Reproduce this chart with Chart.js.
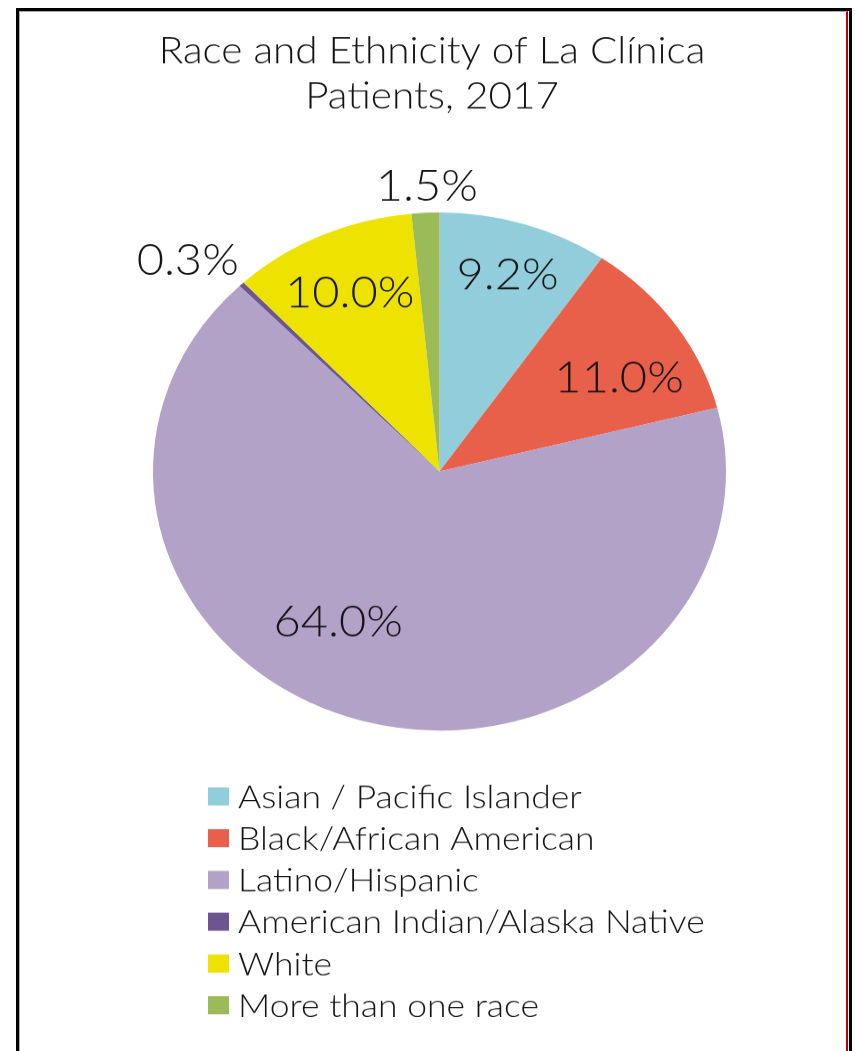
<!DOCTYPE html>
<html>
<head>
<meta charset="utf-8">
<script src="https://cdn.jsdelivr.net/npm/chart.js@4/dist/chart.umd.min.js"></script>
<style>
  html, body { margin:0; padding:0; overflow:hidden; background:#fff; width:855px; height:1051px; }
  #wrap { position:absolute; left:0; top:0; width:855px; height:1163px; transform:scaleY(0.904); transform-origin:0 0; }
  #frame { position:absolute; left:16px; top:8px; width:830px; height:1100px; border-top:3px solid #000; border-left:3px solid #000; border-right:3px solid #000; }
  #inner { position:absolute; left:19px; top:11px; width:826px; height:1100px; border-top:1px solid #aaa; border-left:1px solid #aaa; border-right:2px solid #c00000; }
</style>
</head>
<body>
<div id="wrap"><canvas id="c" width="855" height="1163"></canvas></div>
<div id="frame"></div>
<div id="inner"></div>
<script>
const titleLines = ["Race and Ethnicity of La Clínica", "Patients, 2017"];
const categories = ["Asian / Pacific Islander", "Black/African American", "Latino/Hispanic", "American Indian/Alaska Native", "White", "More than one race"];
const values = [9.2, 11.0, 64.0, 0.3, 10.0, 1.5];
const colors = ["#92CDDC", "#E8604A", "#B2A2C8", "#6E558F", "#EDE200", "#9BBB59"];
// label placement: radius as fraction of pie radius, angular shift (deg) from slice middle
const labelRadius = [0.80, 0.725, 0.677, 1.2, 0.76, 1.106];
const labelShift = [0, 4.7, 15.75, -3.4, 0, 0.5];

const FONT = "Lato, 'Open Sans', sans-serif";
const TXT = "#141414";

const overlay = {
  id: 'overlay',
  afterDraw(chart) {
    const ctx = chart.ctx;
    ctx.save();
    ctx.fillStyle = TXT;
    // title
    ctx.font = "300 40.5px " + FONT;
    ctx.textAlign = "center";
    ctx.textBaseline = "alphabetic";
    ctx.fillText(titleLines[0], 432, 70);
    ctx.fillText(titleLines[1], 432, 120);
    // data labels
    const meta = chart.getDatasetMeta(0);
    const lf = 47;
    ctx.font = "300 " + lf + "px " + FONT;
    meta.data.forEach((arc, i) => {
      const p = arc.getProps(['x','y','startAngle','endAngle','outerRadius'], true);
      const mid = (p.startAngle + p.endAngle) / 2 + labelShift[i] * Math.PI / 180;
      const r = p.outerRadius * labelRadius[i];
      const x = p.x + Math.cos(mid) * r;
      const y = p.y + Math.sin(mid) * r;
      ctx.fillText(values[i].toFixed(1) + "%", x, y + 0.36 * lf);
    });
    // legend
    const gf = 35.5;
    ctx.font = "300 " + gf + "px " + FONT;
    ctx.textAlign = "left";
    const rowTop = 881, rowGap = 46.2;
    categories.forEach((c, i) => {
      const cy = rowTop + i * rowGap;
      ctx.fillStyle = colors[i];
      ctx.fillRect(208, cy - 10, 21, 20);
      ctx.fillStyle = TXT;
      ctx.fillText(c, 238, cy + 0.36 * gf);
    });
    ctx.restore();
  }
};

new Chart(document.getElementById('c'), {
  type: 'pie',
  data: {
    labels: categories,
    datasets: [{ data: values, backgroundColor: colors, borderWidth: 0 }]
  },
  options: {
    responsive: false,
    animation: false,
    events: [],
    layout: { padding: { left: 153, right: 129, top: 235, bottom: 355 } },
    plugins: { legend: { display: false }, tooltip: { enabled: false }, title: { display: false } }
  },
  plugins: [overlay]
});
</script>
</body>
</html>
